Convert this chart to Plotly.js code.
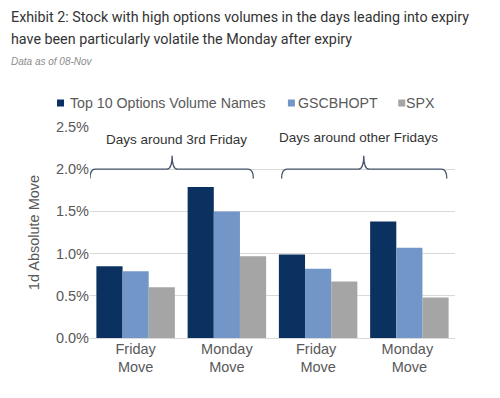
<!DOCTYPE html>
<html>
<head>
<meta charset="utf-8">
<script src="https://cdn.plot.ly/plotly-3.0.1.min.js"></script>
<style>html,body{margin:0;padding:0;background:#fff;}#chart{width:500px;height:398px;}</style>
</head>
<body>
<div id="chart"></div>
<script>
var categories = ["Friday<br>Move", "Monday<br>Move", "Friday <br>Move", "Monday <br>Move"];
var seriesNames = ["Top 10 Options Volume Names", "GSCBHOPT", "SPX"];
var top10 = [0.0085, 0.0179, 0.0099, 0.0138];
var gscbhopt = [0.0079, 0.0150, 0.0082, 0.0107];
var spx = [0.0060, 0.0097, 0.0067, 0.0048];
var groupLabels = ["Days around 3rd Friday", "Days around other Fridays"];
var yTicks = [0, 0.005, 0.01, 0.015, 0.02, 0.025];

var FONT = "Arial";
var colors = ["#0b3160", "#7396c8", "#a5a5a5"];
var values = [top10, gscbhopt, spx];
var traces = values.map(function(v, i) {
  return {type: "bar", x: categories, y: v, name: seriesNames[i],
          marker: {color: colors[i]}, hoverinfo: "skip", showlegend: false};
});

function bracket(x0, xc, x1, yb, yl, yt) {
  var d = 0.06;
  return "M" + x0 + "," + yb + " Q" + x0 + "," + yl + " " + (x0 + d) + "," + yl +
    " L" + (xc - d) + "," + yl + " Q" + xc + "," + yl + " " + xc + "," + yt +
    " Q" + xc + "," + yl + " " + (xc + d) + "," + yl +
    " L" + (x1 - d) + "," + yl + " Q" + x1 + "," + yl + " " + x1 + "," + yb;
}

// manual legend (small squares + labels), paper coordinates
var legX = [-0.0904, 0.5422, 0.8445];
var legTextX = [-0.0603, 0.5636, 0.8603];
var legY = 1.1137;
var shapes = [
  {type: "path", xref: "x", yref: "y", path: bracket(-0.5, 0.40, 1.29, 0.0189, 0.0200, 0.0216),
   line: {color: "#44546a", width: 1.3}},
  {type: "path", xref: "x", yref: "y", path: bracket(1.60, 2.50, 3.41, 0.0189, 0.0200, 0.0216),
   line: {color: "#44546a", width: 1.3}}
];
var annotations = [
  {text: "Exhibit 2: Stock with high options volumes in the days leading into expiry",
   xref: "paper", yref: "paper", x: -0.222, y: (338 - 17) / 211, xanchor: "left", yanchor: "middle",
   showarrow: false, font: {family: "Roboto", size: 14.3, color: "#333333"}},
  {text: "have been particularly volatile the Monday after expiry",
   xref: "paper", yref: "paper", x: -0.222, y: (338 - 39) / 211, xanchor: "left", yanchor: "middle",
   showarrow: false, font: {family: "Roboto", size: 14.3, color: "#333333"}},
  {text: "<i>Data as of 08-Nov</i>", xref: "paper", yref: "paper", x: -0.222, y: (338 - 61) / 211,
   xanchor: "left", yanchor: "middle", showarrow: false,
   font: {family: FONT, size: 10, color: "#8c8c8c"}},
  {text: groupLabels[0], xref: "x", yref: "y", x: 0.45, y: 0.0235, showarrow: false,
   font: {family: FONT, size: 13.5, color: "#333333"}},
  {text: groupLabels[1], xref: "x", yref: "y", x: 2.44, y: 0.0237, showarrow: false,
   font: {family: FONT, size: 13.5, color: "#333333"}}
];
seriesNames.forEach(function(n, i) {
  shapes.push({type: "rect", xref: "paper", yref: "paper",
    x0: legX[i], x1: legX[i] + 7 / 365, y0: legY - 3.5 / 211, y1: legY + 3.5 / 211,
    fillcolor: colors[i], line: {width: 0}});
  annotations.push({text: n, xref: "paper", yref: "paper", x: legTextX[i], y: legY,
    xanchor: "left", yanchor: "middle", showarrow: false,
    font: {family: FONT, size: 14.2, color: "#595959"}});
});

var layout = {
  width: 500, height: 398,
  margin: {l: 90, r: 45, t: 127, b: 60},
  paper_bgcolor: "#fff", plot_bgcolor: "#fff",
  font: {family: FONT, color: "#595959", size: 14},
  barmode: "group", bargap: 0.14, bargroupgap: 0,
  showlegend: false,
  xaxis: {type: "category", range: [-0.5, 3.5], showgrid: false, zeroline: false,
          showline: false, ticks: "", tickfont: {family: FONT, size: 14.5, color: "#595959"}},
  yaxis: {range: [0, 0.025], tickvals: yTicks, tickformat: ".1%", showgrid: true,
          gridcolor: "#d9d9d9", gridwidth: 1, zeroline: true, zerolinecolor: "#d9d9d9",
          showline: false, ticks: "", ticklen: 0,
          tickfont: {family: FONT, size: 14.5, color: "#595959"},
          title: {text: "1d Absolute Move", font: {family: FONT, size: 14.5, color: "#595959"}, standoff: 12}},
  shapes: shapes,
  annotations: annotations
};

Plotly.newPlot("chart", traces, layout, {displayModeBar: false, staticPlot: true});
</script>
</body>
</html>
